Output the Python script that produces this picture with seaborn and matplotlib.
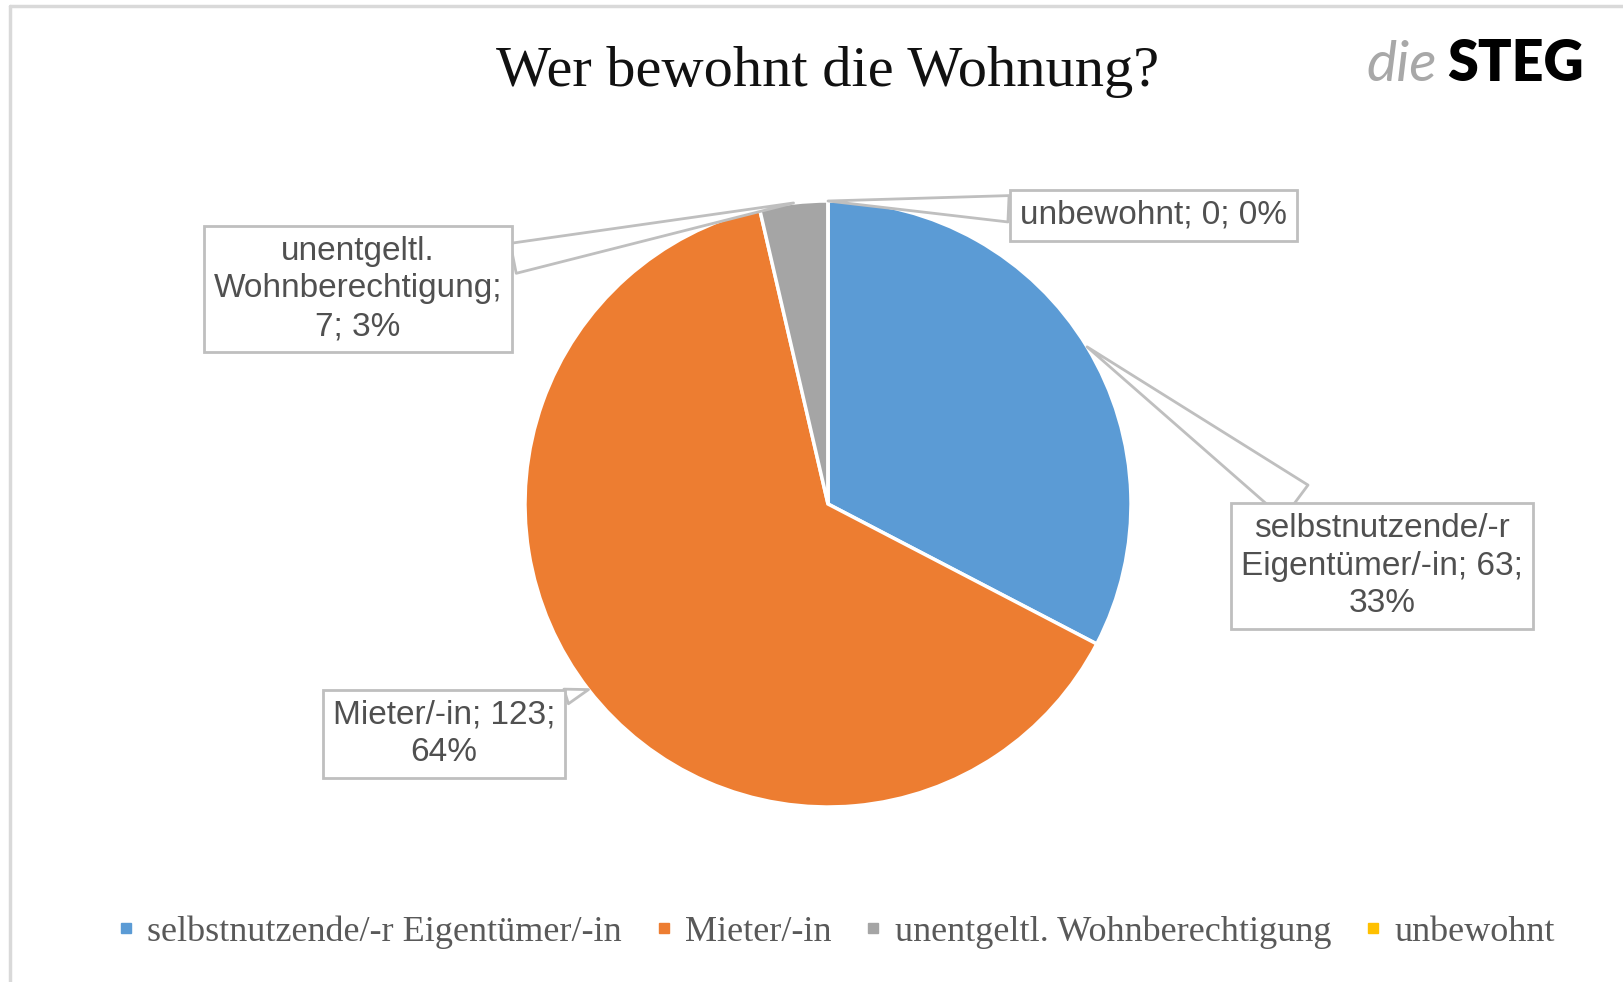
import numpy as np
import pandas as pd
import seaborn as sns
import matplotlib.pyplot as plt
from matplotlib.lines import Line2D

# data
categories = ['selbstnutzende/-r Eigentümer/-in', 'Mieter/-in',
              'unentgeltl. Wohnberechtigung', 'unbewohnt']
counts = [63, 123, 7, 0]
pct_shown = [33, 64, 3, 0]
callout_texts = ['selbstnutzende/-r\nEigentümer/-in; 63;\n33%',
                 'Mieter/-in; 123;\n64%',
                 'unentgeltl.\nWohnberechtigung;\n7; 3%',
                 'unbewohnt; 0; 0%']
colors = ['#5B9BD5', '#ED7D31', '#A5A5A5', '#FFC000']

df = pd.DataFrame({'category': categories, 'count': counts, 'pct': pct_shown})

sns.set_theme(style='white')
palette = sns.color_palette(colors)

W, H = 1624, 982
fig = plt.figure(figsize=(W / 100, H / 100), dpi=100)
ax = fig.add_axes([0, 0, 1, 1])

wedges, _ = ax.pie(df['count'], colors=palette, startangle=90, counterclock=False,
                   wedgeprops=dict(edgecolor='white', linewidth=2.5))

# pie centre / radius in pixels
cx, cy, r = 828, 504, 303
ax.set_xlim(-cx / r, (W - cx) / r)
ax.set_ylim(-(H - cy) / r, cy / r)
ax.axis('off')

# callout positions (axes fraction) and wedge widths
label_pos = [(1382 / W, 1 - 566 / H), (444 / W, 1 - 734 / H),
             (358 / W, 1 - 289 / H), (1153 / W, 1 - 215 / H)]
tail_widths = [3.0, 1.1, 2.2, 1.9]

for w, txt, pos, tw in zip(wedges, callout_texts, label_pos, tail_widths):
    ang = np.deg2rad((w.theta1 + w.theta2) / 2)
    xy = (w.center[0] + w.r * np.cos(ang), w.center[1] + w.r * np.sin(ang))
    ax.annotate(txt, xy=xy, xytext=pos, textcoords='axes fraction',
                ha='center', va='center', multialignment='center',
                fontsize=24, color='#505050', family='Liberation Sans',
                linespacing=1.28,
                bbox=dict(boxstyle='square,pad=0.3', fc='white', ec='#BFBFBF', lw=2),
                arrowprops=dict(arrowstyle=f'wedge,tail_width={tw},shrink_factor=0.5',
                                connectionstyle='arc3', fc='white', ec='#BFBFBF',
                                lw=2, shrinkA=0, shrinkB=0, mutation_scale=10),
                zorder=5)

# title and logo
fig.text(828 / W, 1 - 72 / H, 'Wer bewohnt die Wohnung?', ha='center', va='center',
         fontsize=42, family='Liberation Serif', color='#111111')
fig.text(1437 / W, 1 - 81 / H, 'die', ha='right', va='baseline', fontsize=41,
         family='Lato', style='italic', weight='normal', color='#A8A8A8')
fig.text(1447 / W, 1 - 81 / H, 'STEG', ha='left', va='baseline', fontsize=40,
         family='Lato', weight='heavy', color='#000000')

# legend
handles = [Line2D([], [], marker='s', linestyle='', markersize=7,
                  markerfacecolor=c, markeredgecolor=c) for c in palette]
fig.legend(handles, categories, loc='center', bbox_to_anchor=(836 / W, 1 - 932 / H),
           ncol=4, frameon=False, handlelength=0.5, handletextpad=0.35,
           columnspacing=0.9, prop=dict(family='Liberation Serif', size=26),
           labelcolor='#595959')

# chart frame
fig.add_artist(Line2D([10 / W, 10 / W], [0, 1 - 6 / H], transform=fig.transFigure,
                      color='#D9D9D9', lw=2.5))
fig.add_artist(Line2D([10 / W, 1], [1 - 6 / H, 1 - 6 / H], transform=fig.transFigure,
                      color='#D9D9D9', lw=2.5))

fig.savefig('out.png', dpi=100, facecolor='white')
